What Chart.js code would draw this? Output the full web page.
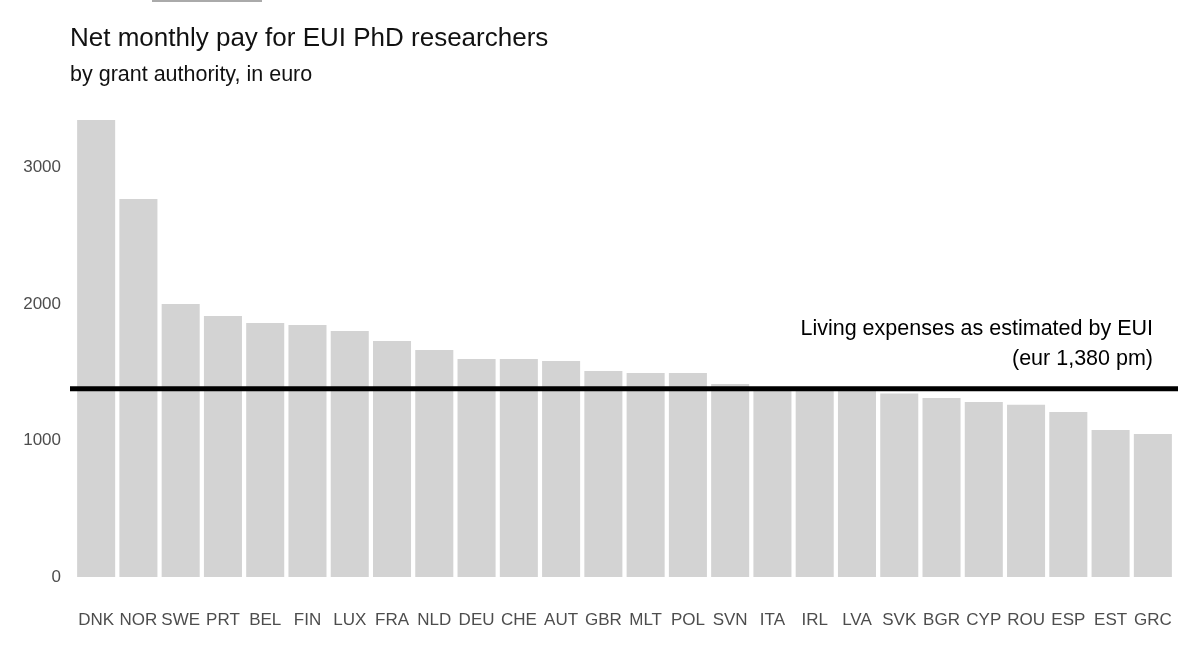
<!DOCTYPE html>
<html>
<head>
<meta charset="utf-8">
<script src="https://cdn.jsdelivr.net/npm/chart.js@4.4.1/dist/chart.umd.min.js"></script>
<style>
  html, body { margin: 0; padding: 0; background: #fff; }
  #wrap { position: relative; width: 1200px; height: 656px; }
  #topbar { position: absolute; left: 152px; top: 0; width: 110px; height: 2px; background: #aaa; }
</style>
</head>
<body>
<div id="wrap">
  <div id="topbar"></div>
  <canvas id="chart" width="1200" height="656"></canvas>
</div>
<script>
// 国別の手取り月給
const countries = ["DNK", "NOR", "SWE", "PRT", "BEL", "FIN", "LUX", "FRA", "NLD", "DEU", "CHE", "AUT", "GBR",
  "MLT", "POL", "SVN", "ITA", "IRL", "LVA", "SVK", "BGR", "CYP", "ROU", "ESP", "EST", "GRC"]
const netPay = [3348, 2769, 2000, 1912, 1861, 1846, 1802, 1729, 1663, 1597, 1597, 1582, 1509,
  1494, 1494, 1414, 1380, 1375, 1370, 1345, 1311, 1282, 1262, 1209, 1077, 1048]
const yTicks = [0, 1000, 2000, 3000]
const livingCost = 1380
const annotationLines = ["Living expenses as estimated by EUI", "(eur 1,380 pm)"]

const FONT = "'Liberation Sans', Arial, Helvetica, sans-serif"

const overlay = {
  id: "overlay",
  afterDatasetsDraw(chart) {
    const ctx = chart.ctx
    const y = chart.scales.y.getPixelForValue(livingCost)
    ctx.save()
    // 生活費ライン
    ctx.strokeStyle = "#000"
    ctx.lineWidth = 5
    ctx.beginPath()
    ctx.moveTo(70, y)
    ctx.lineTo(1178, y)
    ctx.stroke()

    ctx.fillStyle = "#000"
    ctx.font = "21.5px " + FONT
    ctx.textAlign = "right"
    ctx.textBaseline = "alphabetic"
    ctx.fillText(annotationLines[0], 1153, y - 54)
    ctx.fillText(annotationLines[1], 1153, y - 24)

    // タイトル
    ctx.textAlign = "left"
    ctx.fillStyle = "#111"
    ctx.font = "26px " + FONT
    ctx.fillText("Net monthly pay for EUI PhD researchers", 70, 46)
    ctx.font = "21.5px " + FONT
    ctx.fillText("by grant authority, in euro", 70, 81)
    ctx.restore()
  }
}

new Chart(document.getElementById("chart").getContext("2d"), {
  type: "bar",
  data: {
    labels: countries,
    datasets: [{
      data: netPay,
      backgroundColor: "#d3d3d3",
      borderWidth: 0,
      categoryPercentage: 1.0,
      barPercentage: 0.9
    }]
  },
  options: {
    responsive: false,
    animation: false,
    layout: { padding: { top: 113, right: 26, bottom: 19, left: 0 } },
    plugins: {
      legend: { display: false },
      tooltip: { enabled: false }
    },
    scales: {
      x: {
        grid: { display: false, drawTicks: false },
        border: { display: false },
        ticks: {
          padding: 33,
          color: "#4d4d4d",
          font: { family: FONT, size: 17 },
          maxRotation: 0,
          autoSkip: false
        },
        afterFit(scale) {
          scale.height = 60
          // ラベル用の左右余白は不要
          scale.paddingLeft = 0
          scale.paddingRight = 0
        }
      },
      y: {
        min: 0,
        max: 3400,
        grid: { display: false, drawTicks: false },
        border: { display: false },
        afterBuildTicks(scale) {
          scale.ticks = yTicks.map(v => ({ value: v }))
        },
        ticks: {
          padding: 14,
          color: "#4d4d4d",
          font: { family: FONT, size: 17 },
          callback: v => String(v)
        },
        afterFit(scale) { scale.width = 75 }
      }
    }
  },
  plugins: [overlay]
})
</script>
</body>
</html>
